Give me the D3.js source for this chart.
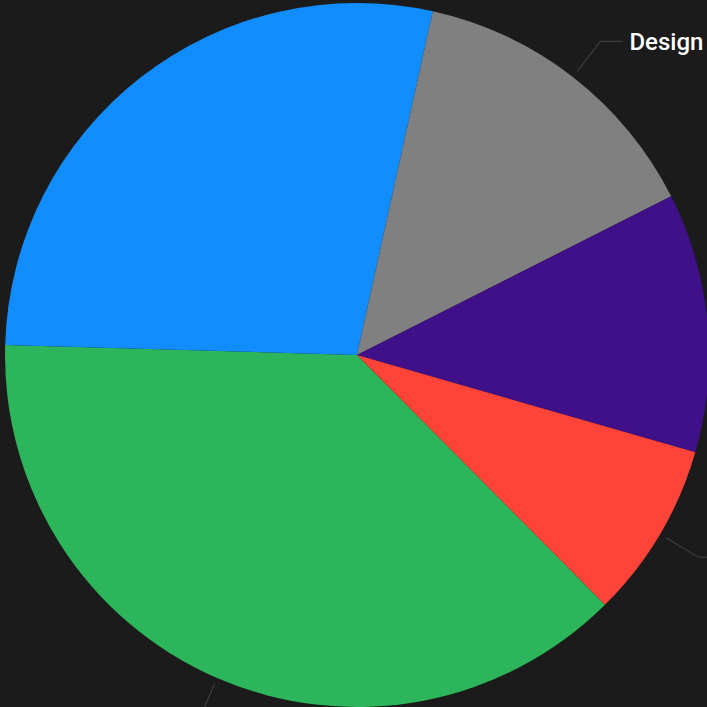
<!DOCTYPE html>
<html>
<head>
<meta charset="utf-8">
<script src="https://cdn.jsdelivr.net/npm/d3@7"></script>
<style>
  html, body { margin: 0; padding: 0; background: #1b1b1b; }
  svg { display: block; overflow: hidden; }
</style>
</head>
<body>
<svg id="chart" width="707" height="707"></svg>
<script>
// Share of work by category (percent), largest first
const categories = ["Development", "Marketing", "Design", "Research", "Support"];
const values = [37.9, 28.0, 14.1, 11.9, 8.1];
const colors = ["#2cb55a", "#118dff", "#808080", "#3f1088", "#fe4338"];
// Only these categories carry an outside label
const labelled = ["Development", "Design", "Support"];

const width = 707, height = 707;
const cx = 357, cy = 355, radius = 352;

const svg = d3.select("#chart");
const g = svg.append("g").attr("transform", `translate(${cx},${cy})`);

const data = categories.map((c, i) => ({ category: c, value: values[i], color: colors[i] }));

const start = 135.2 * Math.PI / 180;
const pie = d3.pie().sort(null).value(d => d.value)
  .startAngle(start).endAngle(start + 2 * Math.PI);
const arcs = pie(data);

const arc = d3.arc().innerRadius(0).outerRadius(radius);
const lineStart = d3.arc().innerRadius(radius + 7).outerRadius(radius + 7);
const elbow = d3.arc().innerRadius(397).outerRadius(397);

g.selectAll("path.slice")
  .data(arcs)
  .join("path")
  .attr("class", "slice")
  .attr("d", arc)
  .attr("fill", d => d.data.color);

const withLabels = arcs.filter(d => labelled.includes(d.data.category));

function side(d) {
  const mid = (d.startAngle + d.endAngle) / 2;
  return Math.sin(mid) >= 0 ? 1 : -1;
}

g.selectAll("polyline.leader")
  .data(withLabels)
  .join("polyline")
  .attr("class", "leader")
  .attr("fill", "none")
  .attr("stroke", "#3c3c3c")
  .attr("stroke-width", 1.3)
  .attr("points", d => {
    const a = lineStart.centroid(d);
    const b = elbow.centroid(d);
    const c = [b[0] + side(d) * 22, b[1]];
    return [a, b, c].map(p => p.join(",")).join(" ");
  });

const labels = g.selectAll("text.label")
  .data(withLabels)
  .join("text")
  .attr("class", "label")
  .attr("x", d => elbow.centroid(d)[0] + side(d) * 29)
  .attr("y", d => elbow.centroid(d)[1])
  .attr("dy", "0.36em")
  .attr("text-anchor", d => side(d) > 0 ? "start" : "end")
  .attr("fill", "#ffffff")
  .style("font-family", "Roboto, 'DejaVu Sans', sans-serif")
  .style("font-weight", "500")
  .style("font-size", "24px")
  .text(d => d.data.category);

// Hide labels that would overflow the drawing area
labels.each(function () {
  const b = this.getBBox();
  const x0 = b.x + cx, y0 = b.y + cy;
  if (x0 < 0 || y0 < 0 || x0 + b.width > width || y0 + b.height > height) {
    d3.select(this).remove();
  }
});
</script>
</body>
</html>
